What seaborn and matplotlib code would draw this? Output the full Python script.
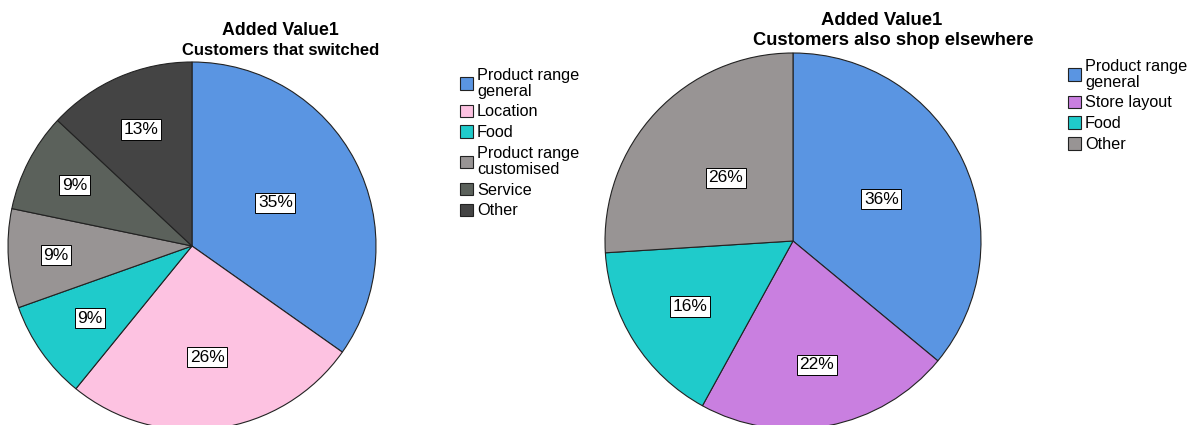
import matplotlib
matplotlib.use("Agg")
import matplotlib.pyplot as plt
import numpy as np
import seaborn as sns

# Reasons given by customers who switched stores
switched_labels = ["Product range\ngeneral", "Location", "Food",
                   "Product range\ncustomised", "Service", "Other"]
switched_counts = [8, 6, 2, 2, 2, 3]
switched_colors = ["#5A95E2", "#FDC2E1", "#1FCBCB", "#989494", "#5B615B", "#444444"]

# Reasons given by customers who also shop elsewhere
elsewhere_labels = ["Product range\ngeneral", "Store layout", "Food", "Other"]
elsewhere_counts = [18, 11, 8, 13]
elsewhere_colors = ["#5A95E2", "#C97FE0", "#1FCBCB", "#989494"]

# radial placement (fraction of radius) of each slice's percentage label
switched_label_r = [0.51, 0.61, 0.68, 0.74, 0.72, 0.69]
elsewhere_label_r = [0.52, 0.67, 0.65, 0.49]

sns.set_theme(style="white")
plt.rcParams["font.family"] = ["Liberation Sans", "DejaVu Sans"]
plt.rcParams["text.color"] = "black"

W, H = 1198, 425
fig = plt.figure(figsize=(W / 100, H / 100), dpi=100)
fig.patch.set_facecolor("white")


def draw_pie(cx, cy, r, counts, colors, labels, label_r, legend_xy,
             title_x, title_y, title_size, subtitle, sub_x, sub_y, sub_size):
    ax = fig.add_axes([(cx - r) / W, (H - cy - r) / H, 2 * r / W, 2 * r / H])
    wedges, _ = ax.pie(
        counts, colors=colors, startangle=90, counterclock=False,
        wedgeprops=dict(edgecolor="#222222", linewidth=0.8),
    )
    total = sum(counts)
    for w, c, lr in zip(wedges, counts, label_r):
        mid = np.deg2rad((w.theta1 + w.theta2) / 2)
        ax.text(lr * np.cos(mid), lr * np.sin(mid), f"{100 * c / total:.0f}%",
                ha="center", va="center", fontsize=12.5, color="black",
                bbox=dict(boxstyle="square,pad=0.15", facecolor="white",
                          edgecolor="black", linewidth=0.7))
    ax.set_xlim(-1, 1)
    ax.set_ylim(-1, 1)
    ax.set_aspect("equal")
    ax.axis("off")

    leg = fig.legend(
        wedges, labels, loc="upper left",
        bbox_to_anchor=(legend_xy[0] / W, 1 - legend_xy[1] / H),
        frameon=False, fontsize=11.7, handlelength=0.8, handleheight=0.8,
        handletextpad=0.25, labelspacing=0.36, borderpad=0, borderaxespad=0,
    )
    for txt in leg.get_texts():
        txt.set_linespacing(1.05)
        txt.set_color("black")

    fig.text(title_x / W, 1 - title_y / H, "Added Value1", ha="center",
             va="baseline", fontsize=title_size, fontweight="bold")
    fig.text(sub_x / W, 1 - sub_y / H, subtitle, ha="center",
             va="baseline", fontsize=sub_size, fontweight="bold")


draw_pie(192, 246, 184, switched_counts, switched_colors, switched_labels,
         switched_label_r, (460, 68), 280, 35, 12.8,
         "Customers that switched", 281, 55, 12)
draw_pie(793, 241, 188, elsewhere_counts, elsewhere_colors, elsewhere_labels,
         elsewhere_label_r, (1068, 59), 882, 25, 13.3,
         "Customers also shop elsewhere", 893, 45, 13.2)

fig.savefig("out.png", dpi=100, facecolor="white")
